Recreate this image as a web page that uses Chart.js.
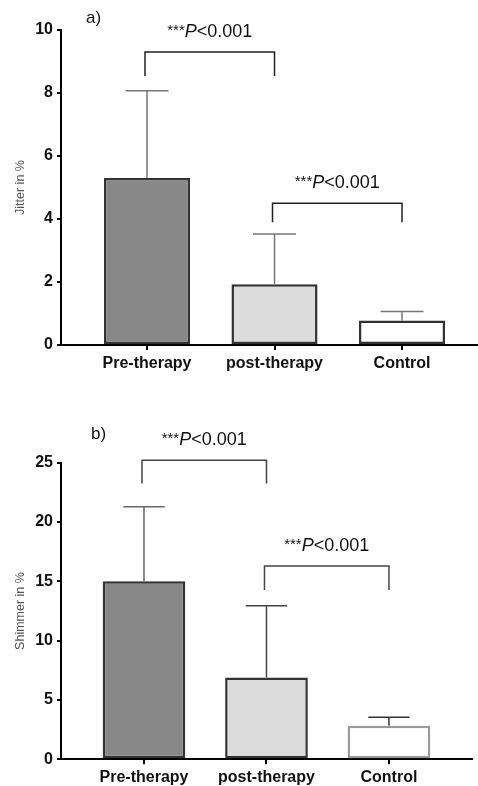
<!DOCTYPE html>
<html>
<head>
<meta charset="utf-8">
<script src="https://cdn.jsdelivr.net/npm/chart.js@4/dist/chart.umd.min.js"></script>
<style>
  body { margin: 0; background: #fff; overflow: hidden; }
  canvas { display: block; position: absolute; left: 0; }
  #jitter { top: 0; }
  #shimmer { top: 390px; }
</style>
</head>
<body>
<canvas id="jitter" width="478" height="390"></canvas>
<canvas id="shimmer" width="478" height="396"></canvas>
<script>
const groups = ['Pre-therapy', 'post-therapy', 'Control'];

const jitterMean = [5.3, 1.93, 0.78];
const jitterSD = [2.77, 1.59, 0.28];
const jitterTicks = [0, 2, 4, 6, 8, 10];

const shimmerMean = [15.0, 6.9, 2.83];
const shimmerSD = [6.28, 6.04, 0.71];
const shimmerTicks = [0, 5, 10, 15, 20, 25];

// significance brackets: [from group, to group], level of the bar, bottom of legs
const jitterPairs = [[1, 2], [2, 3]];
const jitterBracketTop = [9.3, 4.5];
const jitterBracketLeg = [8.54, 3.9];

const shimmerPairs = [[1, 2], [2, 3]];
const shimmerBracketTop = [25.2, 16.3];
const shimmerBracketLeg = [23.25, 14.26];

const pText = ['***', 'P', '<0.001'];

const FONT = '"Liberation Sans", Arial, sans-serif';

function drawP(ctx, cx, base) {
  ctx.textAlign = 'left';
  ctx.textBaseline = 'alphabetic';
  ctx.fillStyle = '#111';
  const small = '15px ' + FONT;
  const big = '18px ' + FONT;
  const bigI = 'italic 18px ' + FONT;
  ctx.font = small;
  const w1 = ctx.measureText(pText[0]).width;
  ctx.font = bigI;
  const w2 = ctx.measureText(pText[1]).width;
  ctx.font = big;
  const w3 = ctx.measureText(pText[2]).width;
  let x0 = cx - (w1 + w2 + w3) / 2;
  ctx.font = small;
  ctx.fillText(pText[0], x0, base - 2);
  x0 += w1;
  ctx.font = bigI;
  ctx.fillText(pText[1], x0, base);
  x0 += w2;
  ctx.font = big;
  ctx.fillText(pText[2], x0, base);
}

const annotate = {
  id: 'annotate',
  afterDatasetsDraw(chart, args, opts) {
    const ctx = chart.ctx;
    const xs = chart.scales.x;
    const ys = chart.scales.y;
    const bars = chart.getDatasetMeta(0).data;
    const mean = chart.data.datasets[0].data.map((d) => d.y);
    ctx.save();

    // error bars (upper only)
    ctx.lineWidth = 1.5;
    bars.forEach((bar, i) => {
      const top = ys.getPixelForValue(mean[i] + opts.sd[i]);
      const half = bar.width / 4;
      ctx.strokeStyle = opts.errColor[i];
      ctx.beginPath();
      ctx.moveTo(bar.x, bar.y);
      ctx.lineTo(bar.x, top);
      ctx.moveTo(bar.x - half, top);
      ctx.lineTo(bar.x + half, top);
      ctx.stroke();
    });

    // brackets
    ctx.strokeStyle = opts.bracketColor;
    ctx.lineWidth = 1.5;
    opts.pairs.forEach((p, i) => {
      const x1 = xs.getPixelForValue(p[0]) - 2;
      const x2 = xs.getPixelForValue(p[1]);
      const yt = ys.getPixelForValue(opts.top[i]);
      const yl = ys.getPixelForValue(opts.leg[i]);
      ctx.beginPath();
      ctx.moveTo(x1, yl);
      ctx.lineTo(x1, yt);
      ctx.lineTo(x2, yt);
      ctx.lineTo(x2, yl);
      ctx.stroke();
      drawP(ctx, (x1 + x2) / 2, yt - 15);
    });

    // panel letter
    ctx.font = '17px ' + FONT;
    ctx.fillStyle = '#111';
    ctx.textAlign = 'left';
    ctx.textBaseline = 'alphabetic';
    ctx.fillText(opts.letter, opts.letterX, opts.letterY);
    ctx.restore();
  }
};

function makeChart(id, cfg) {
  return new Chart(document.getElementById(id), {
    type: 'bar',
    data: {
      datasets: [{
        data: cfg.mean.map((v, i) => ({ x: i + 1, y: v })),
        backgroundColor: ['#888888', '#dcdcdc', '#ffffff'],
        borderColor: cfg.borderColor,
        borderWidth: 2.5,
        borderSkipped: false,
        barPercentage: 0.675,
        categoryPercentage: 1
      }]
    },
    options: {
      responsive: false,
      animation: false,
      layout: { padding: { top: cfg.padTop, left: 0, right: cfg.padRight, bottom: 0 } },
      plugins: {
        legend: { display: false },
        tooltip: { enabled: false },
        annotate: {
          sd: cfg.sd,
          errColor: cfg.errColor,
          bracketColor: cfg.bracketColor,
          pairs: cfg.pairs,
          top: cfg.bTop,
          leg: cfg.bLeg,
          letter: cfg.letter,
          letterX: cfg.letterX,
          letterY: cfg.letterY
        }
      },
      scales: {
        x: {
          type: 'linear',
          offset: false,
          bounds: 'data',
          min: cfg.xMin,
          max: cfg.xMax,
          afterBuildTicks: (s) => { s.ticks = groups.map((_, i) => ({ value: i + 1 })); },
          afterFit: (s) => { s.height = cfg.xHeight; },
          border: { display: true, color: '#000', width: 2 },
          grid: { offset: false, drawOnChartArea: false, color: '#000', lineWidth: 2, tickLength: 5 },
          ticks: {
            padding: 4,
            color: '#111',
            font: { family: FONT, size: 16, weight: 'bold' },
            callback: (v) => groups[v - 1] || ''
          }
        },
        y: {
          min: 0,
          max: cfg.yTicks[cfg.yTicks.length - 1],
          afterBuildTicks: (s) => { s.ticks = cfg.yTicks.map((v) => ({ value: v })); },
          afterFit: (s) => { s.width = 61; },
          border: { display: true, color: '#000', width: 2 },
          grid: { drawOnChartArea: false, color: '#000', lineWidth: 2, tickLength: 4 },
          ticks: {
            padding: 4,
            color: '#111',
            font: { family: FONT, size: 16, weight: 'bold' }
          },
          title: {
            display: true,
            text: cfg.yTitle,
            color: '#555',
            font: { family: FONT, size: 12.5 },
            padding: { top: 13, bottom: 0 }
          }
        }
      }
    },
    plugins: [annotate]
  });
}

makeChart('jitter', {
  mean: jitterMean,
  sd: jitterSD,
  yTicks: jitterTicks,
  yTitle: 'Jitter in %',
  borderColor: ['#333', '#333', '#333'],
  errColor: ['#777', '#777', '#777'],
  bracketColor: '#222',
  pairs: jitterPairs,
  bTop: jitterBracketTop,
  bLeg: jitterBracketLeg,
  letter: 'a)',
  letterX: 86,
  letterY: 23,
  padTop: 30,
  padRight: 0,
  xHeight: 45,
  xMin: 0.3255,
  xMax: 3.596
});

makeChart('shimmer', {
  mean: shimmerMean,
  sd: shimmerSD,
  yTicks: shimmerTicks,
  yTitle: 'Shimmer in %',
  borderColor: ['#333', '#333', '#9a9a9a'],
  errColor: ['#666', '#444', '#333'],
  bracketColor: '#444',
  pairs: shimmerPairs,
  bTop: shimmerBracketTop,
  bLeg: shimmerBracketLeg,
  letter: 'b)',
  letterX: 91,
  letterY: 49,
  padTop: 72.7,
  padRight: 6,
  xHeight: 26.7,
  xMin: 0.3224,
  xMax: 3.678
});
</script>
</body>
</html>
